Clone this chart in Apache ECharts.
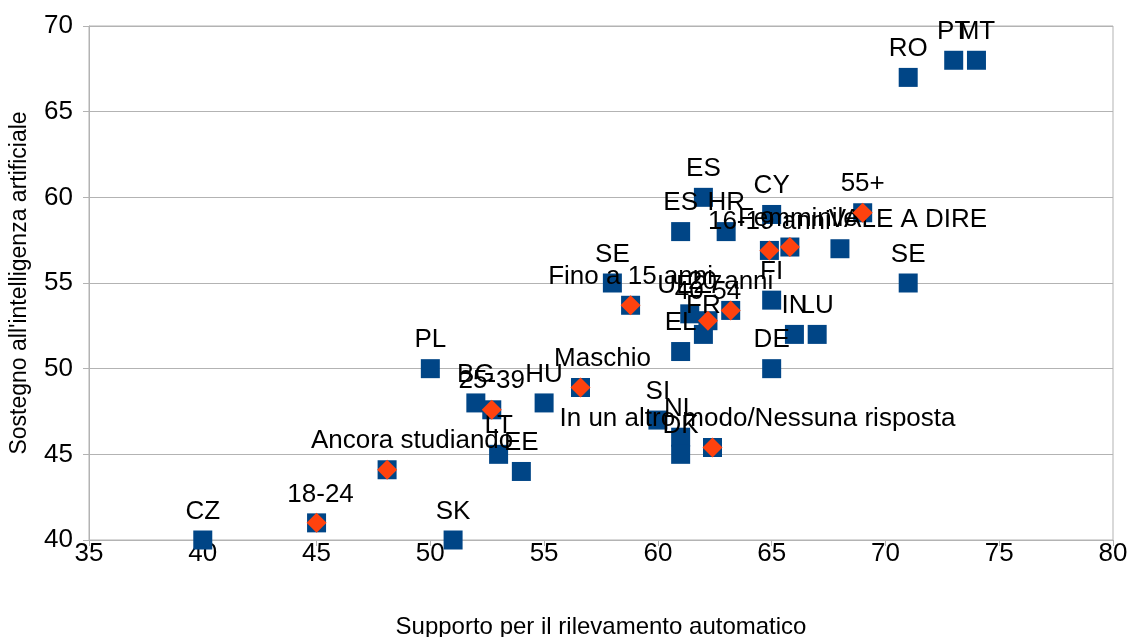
<!DOCTYPE html>
<html><head><meta charset="utf-8">
<script src="https://cdn.jsdelivr.net/npm/echarts@6/dist/echarts.min.js"></script>
<style>html,body{margin:0;padding:0;background:#fff}#c{width:1134px;height:637px}</style>
</head><body><div id="c"></div>
<script>
// Countries (square markers only)
const countryNames = ["CZ","SK","LT","EE","BG","HU","PL","SI","NL","DK","SE","ES","ES","HR","CY","VALE A DIRE","FI","IN","LU","DE","EL","FR","UE27","SE","RO","PT","MT"];
const countryX =     [40,  51,  53,  54,  52,  55,  50,  60,  61,  61,  58,  62,  61,  63,  65,  68,            65,  66,  67,  65,  61,  62,  61.4,  71,  71,  73,  74];
const countryY =     [40,  40,  45,  44,  48,  48,  50,  47,  46,  45,  55,  60,  58,  58,  59,  57,            54,  52,  52,  50,  51,  52,  53.2,  55,  67,  68,  68];
// Groups (square + diamond markers)
const groupNames = ["18-24","Ancora studiando","25-39","Maschio","In un altro modo/Nessuna risposta","Fino a 15 anni","40-54","20 anni","16-19 anni","Femminile","55+"];
const groupX =     [45,   48.1, 52.7, 56.6, 62.4, 58.8, 62.2, 63.2, 64.9, 65.8, 69];
const groupY =     [41,   44.1, 47.6, 48.9, 45.4, 53.7, 52.8, 53.4, 56.9, 57.1, 59.1];
const xTicks = [35,40,45,50,55,60,65,70,75,80];
const yTicks = [40,45,50,55,60,65,70];

// label text shifts seen in the reference (styling only)
const labelShift = {"Ancora studiando":25,"Maschio":22,"In un altro modo/Nessuna risposta":45,"VALE A DIRE":68,"Femminile":8,"18-24":4};
const allNames = countryNames.concat(groupNames);
const squareData = countryNames.map((n,i)=>({name:n,value:[countryX[i],countryY[i]]}))
  .concat(groupNames.map((n,i)=>({name:n,value:[groupX[i],groupY[i]]})));
const diamondData = groupNames.map((n,i)=>({name:n,value:[groupX[i],groupY[i]]}));

const font = "'Liberation Sans', Arial, sans-serif";
const chart = echarts.init(document.getElementById('c'), null, {renderer:'canvas'});
chart.setOption({
  animation:false,
  grid:{left:89,right:21,top:26,bottom:97,show:true,borderColor:'#b3b3b3',borderWidth:1,
        containLabel:false,outerBoundsMode:'none'},
  xAxis:{type:'value',min:xTicks[0],max:xTicks[xTicks.length-1],interval:5,
    name:'Supporto per il rilevamento automatico',nameLocation:'middle',nameGap:75,
    nameTextStyle:{fontFamily:font,fontSize:24,color:'#000'},
    axisLine:{lineStyle:{color:'#b3b3b3'}},axisTick:{show:true,length:6,lineStyle:{color:'#b3b3b3'}},
    axisLabel:{fontFamily:font,fontSize:26,color:'#000',margin:1},
    splitLine:{show:false}},
  yAxis:{type:'value',min:yTicks[0],max:yTicks[yTicks.length-1],interval:5,
    name:"Sostegno all'intelligenza artificiale",nameLocation:'middle',nameGap:58,
    nameTextStyle:{fontFamily:font,fontSize:23,color:'#000'},
    axisLine:{show:true,lineStyle:{color:'#b3b3b3'}},axisTick:{show:true,length:6,lineStyle:{color:'#b3b3b3'}},
    axisLabel:{fontFamily:font,fontSize:26,color:'#000',margin:16},
    splitLine:{show:true,lineStyle:{color:'#b3b3b3'}}},
  series:[
    {type:'scatter',symbol:'rect',symbolSize:19,data:squareData,
     itemStyle:{color:'#004586',opacity:1},
     label:{show:true,position:'top',distance:6,formatter:p=>p.name,fontFamily:font,fontSize:26,color:'#000'},
     labelLayout:function(p){return {hideOverlap:false,dx:labelShift[allNames[p.dataIndex]]||0};},z:2},
    {type:'scatter',symbol:'diamond',symbolSize:[20,20],data:diamondData,
     itemStyle:{color:'#ff420e',opacity:1},label:{show:false},z:3}
  ]
});
</script></body></html>
